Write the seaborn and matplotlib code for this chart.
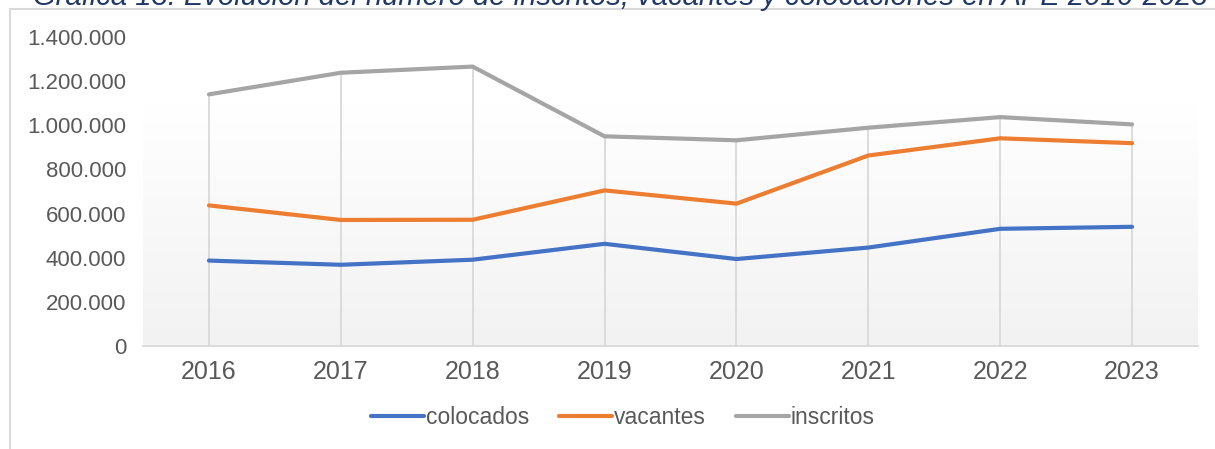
import numpy as np
import pandas as pd
import matplotlib.pyplot as plt
import seaborn as sns
from matplotlib.lines import Line2D
from matplotlib.ticker import FuncFormatter

# values
years = ["2016", "2017", "2018", "2019", "2020", "2021", "2022", "2023"]
colocados = [387000, 368000, 391000, 463000, 394000, 446000, 531000, 540000]
vacantes = [637000, 571000, 572000, 705000, 645000, 863000, 941000, 919000]
inscritos = [1140000, 1238000, 1266000, 950000, 932000, 989000, 1037000, 1004000]
series_names = ["colocados", "vacantes", "inscritos"]
y_ticks = [0, 200000, 400000, 600000, 800000, 1000000, 1200000, 1400000]
title = "Gráfica 13. Evolución del número de inscritos, vacantes y colocaciones en APE 2016-2023"

df = pd.DataFrame({"Año": years, "colocados": colocados,
                   "vacantes": vacantes, "inscritos": inscritos})
long_df = df.melt(id_vars="Año", value_vars=series_names,
                  var_name="serie", value_name="valor")

sns.set_style("white")
plt.rcParams["font.family"] = ["Liberation Sans", "DejaVu Sans"]

colors = {"colocados": "#4472C4", "vacantes": "#ED7D31", "inscritos": "#A5A5A5"}
text_gray = "#595959"

fig = plt.figure(figsize=(12.15, 4.49), dpi=100)
ax = fig.add_axes([143 / 1215, 1 - 346 / 449, (1198 - 143) / 1215, (346 - 37) / 449])

# soft gradient in the plot area
grad = np.linspace(0, 1, 256).reshape(-1, 1)
ax.imshow(grad, extent=(-0.5, 7.5, 0, 1.10e6), aspect="auto",
          cmap=sns.blend_palette(["#F2F2F2", "#FFFFFF"], as_cmap=True),
          origin="lower", zorder=0)

x_pos = np.arange(len(years))
# drop lines from the top series down to the axis
ax.vlines(x_pos, 0, inscritos, color="#D9D9D9", linewidth=1.3, zorder=1)

sns.lineplot(data=long_df, x="Año", y="valor", hue="serie",
             palette=colors, linewidth=3, ax=ax, legend=False, zorder=3)

ax.set_xlim(-0.5, 7.5)
ax.set_ylim(0, 1400000)
ax.set_yticks(y_ticks)
ax.yaxis.set_major_formatter(FuncFormatter(lambda v, p: f"{int(v):,}".replace(",", ".")))
ax.set_xlabel("")
ax.set_ylabel("")
ax.tick_params(axis="y", length=0, pad=12, labelsize=16, labelcolor=text_gray)
ax.tick_params(axis="x", length=0, pad=10, labelsize=18, labelcolor=text_gray)
for s in ["top", "right", "left"]:
    ax.spines[s].set_visible(False)
ax.spines["bottom"].set_color("#D9D9D9")
ax.spines["bottom"].set_linewidth(1.3)
ax.grid(False)

handles = [Line2D([0], [0], color=colors[n], linewidth=3) for n in series_names]
leg = fig.legend(handles, series_names, loc="center", ncol=3, frameon=False,
                 bbox_to_anchor=(623 / 1215, 1 - 418 / 449), fontsize=16.5,
                 handlelength=2.3, handletextpad=0.1, columnspacing=1.3)
for t in leg.get_texts():
    t.set_color(text_gray)

# chart frame (top and left edges visible)
fig.add_artist(Line2D([10 / 1215, 1], [1 - 9 / 449, 1 - 9 / 449],
                      color="#D9D9D9", linewidth=1.5, transform=fig.transFigure))
fig.add_artist(Line2D([10 / 1215, 10 / 1215], [0, 1 - 9 / 449],
                      color="#D9D9D9", linewidth=1.5, transform=fig.transFigure))

# title, cut off by the top edge as in the source
fig.text(33 / 1215, 1 - 5 / 449, title, ha="left", va="baseline",
         fontsize=21, style="italic", color="#1F3864")

fig.savefig("out.png", dpi=100)
